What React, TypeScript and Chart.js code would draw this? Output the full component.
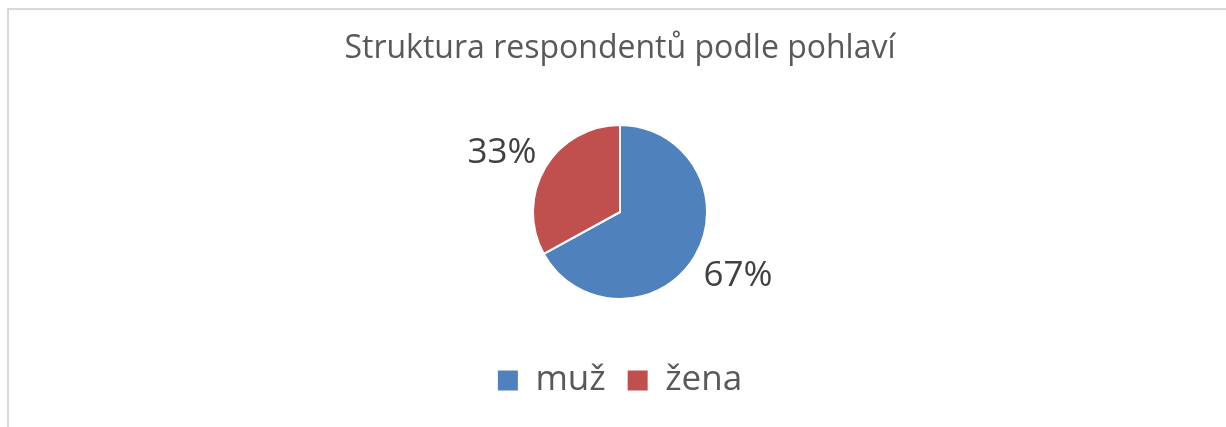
import React, { useEffect, useRef } from "react";
import { Chart, registerables } from "chart.js";

Chart.register(...registerables);

const TITLE = "Struktura respondentů podle pohlaví";
const categories = ["muž", "žena"];
const values = [67, 33];
const colors = ["#4F81BD", "#C0504D"];

const FONT = "'Open Sans', 'Noto Sans', sans-serif";

const labelPlugin = {
  id: "pieLabels",
  afterDatasetsDraw(chart: any) {
    const ctx = chart.ctx;
    const meta = chart.getDatasetMeta(0);
    const data = chart.data.datasets[0].data as number[];
    const total = data.reduce((a: number, b: number) => a + b, 0);
    ctx.save();
    ctx.font = `35px ${FONT}`;
    ctx.fillStyle = "#404040";
    ctx.textBaseline = "alphabetic";
    meta.data.forEach((arc: any, i: number) => {
      const { x, y, startAngle, endAngle, outerRadius } = arc.getProps(
        ["x", "y", "startAngle", "endAngle", "outerRadius"],
        true
      );
      const mid = (startAngle + endAngle) / 2;
      const dx = Math.cos(mid);
      const dy = Math.sin(mid);
      const px = x + dx * (outerRadius + 10);
      const py = y + dy * (outerRadius + 10);
      const text = Math.round((data[i] / total) * 100) + "%";
      ctx.textAlign = dx < 0 ? "right" : "left";
      const m = ctx.measureText(text);
      const by = dy < 0 ? py : py + m.actualBoundingBoxAscent;
      ctx.fillText(text, px, by);
    });
    ctx.restore();
  },
};

export default function App() {
  const ref = useRef<HTMLCanvasElement | null>(null);

  useEffect(() => {
    if (!ref.current) return;
    const chart = new Chart(ref.current, {
      type: "pie",
      data: {
        labels: categories,
        datasets: [
          {
            data: values,
            backgroundColor: colors,
            borderColor: "#ffffff",
            borderWidth: 2,
            radius: 87,
          } as any,
        ],
      },
      options: {
        responsive: false,
        animation: false,
        devicePixelRatio: 1,
        layout: { padding: { left: 14, right: 0, top: 0, bottom: 19 } },
        plugins: {
          title: {
            display: true,
            text: TITLE,
            color: "#595959",
            font: { size: 32, family: FONT, weight: "normal" as any },
            padding: { top: 30, bottom: 14.6 },
          },
          legend: {
            position: "bottom",
            labels: {
              boxWidth: 20,
              boxHeight: 20,
              padding: 22,
              color: "#595959",
              font: { size: 35, family: FONT },
              generateLabels: (c: any) =>
                (Chart as any).overrides.doughnut.plugins.legend.labels
                  .generateLabels(c)
                  .map((l: any) => ({ ...l, lineWidth: 0 })),
            },
          },
          tooltip: { enabled: false },
        },
      },
      plugins: [labelPlugin],
    });
    return () => chart.destroy();
  }, []);

  return (
    <div
      style={{
        position: "fixed",
        left: 0,
        top: 0,
        width: 1226,
        height: 427,
        overflow: "hidden",
        background: "#ffffff",
      }}
    >
      <div
        style={{
          position: "absolute",
          left: 7,
          top: 8,
          width: 1240,
          height: 440,
          border: "2px solid #d9d9d9",
          boxSizing: "border-box",
        }}
      />
      <canvas
        ref={ref}
        width={1226}
        height={427}
        style={{ position: "absolute", left: 0, top: 0 }}
      />
    </div>
  );
}
